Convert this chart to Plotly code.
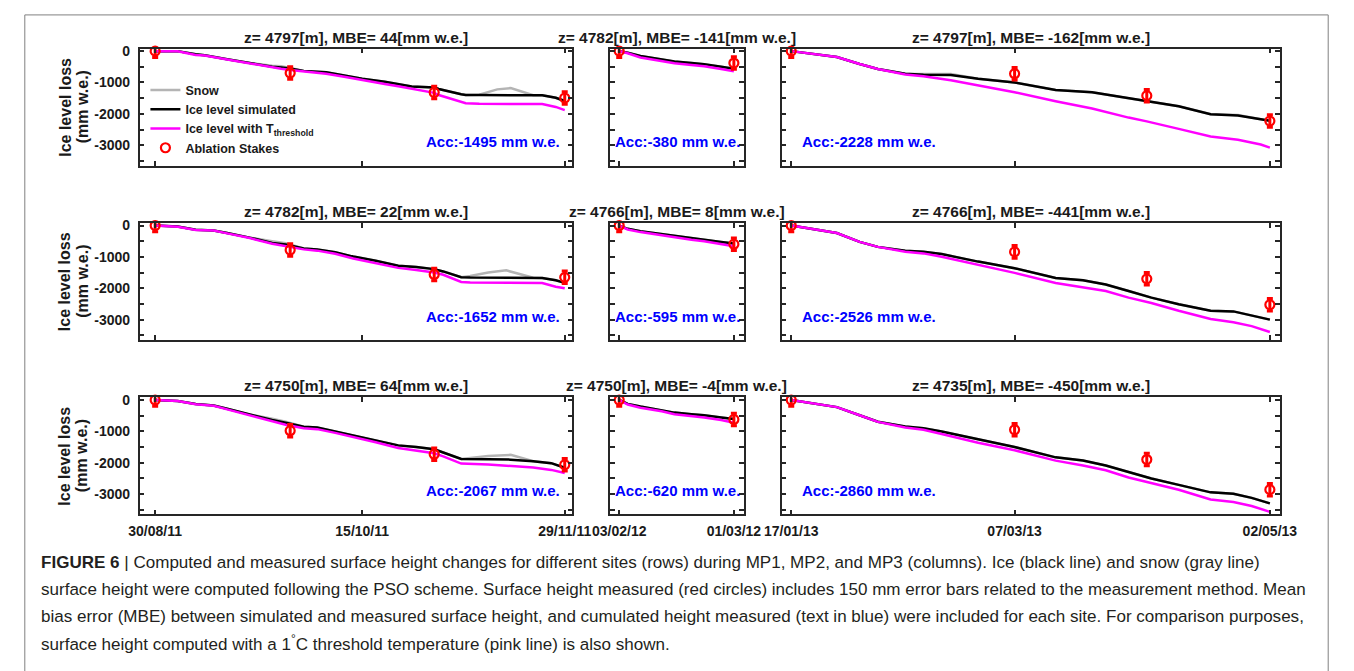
import pandas as pd
import plotly.graph_objects as go

W, H = 1354, 671

# ---------------- data ----------------
col_start = ["2011-08-30", "2012-02-03", "2013-01-17"]
col_tickvals = [["2011-08-30", "2011-10-15", "2011-11-29"],
                ["2012-02-03", "2012-03-01"],
                ["2013-01-17", "2013-03-07", "2013-05-02"]]
col_ticktext = [["30/08/11", "15/10/11", "29/11/11"],
                ["03/02/12", "01/03/12"],
                ["17/01/13", "07/03/13", "02/05/13"]]
col_range = [["2011-08-26 13:00", "2011-11-30 17:00"],
             ["2012-01-31 22:00", "2012-03-03 07:00"],
             ["2013-01-14 21:00", "2013-05-04 03:00"]]

y_tickvals = [-3000, -2000, -1000, 0]
y_ticktext = ["-3000", "-2000", "-1000", "0"]
y_minor_step = 500

titles = [["z= 4797[m], MBE= 44[mm w.e.]", "z= 4782[m], MBE= -141[mm w.e.]", "z= 4797[m], MBE= -162[mm w.e.]"],
          ["z= 4782[m], MBE= 22[mm w.e.]", "z= 4766[m], MBE= 8[mm w.e.]", "z= 4766[m], MBE= -441[mm w.e.]"],
          ["z= 4750[m], MBE= 64[mm w.e.]", "z= 4750[m], MBE= -4[mm w.e.]", "z= 4735[m], MBE= -450[mm w.e.]"]]
acc_values = [[-1495, -380, -2228],
              [-1652, -595, -2526],
              [-2067, -620, -2860]]

stake_days = [[0, 30, 62, 91], [0, 27], [0, 49, 78, 105]]
stake_values = [[[0, -700, -1320, -1495], [0, -380], [0, -720, -1420, -2228]],
                [[0, -780, -1560, -1652], [0, -595], [0, -840, -1700, -2526]],
                [[0, -980, -1730, -2067], [0, -620], [0, -950, -1900, -2860]]]
stake_err = 200

# column 1 series (MP1)
days_c1_r1 = [0, 5, 9, 11, 16, 21, 26, 28, 30, 33, 38, 42, 46, 51, 54, 57, 62, 63, 68, 69, 72, 76, 79, 82, 84, 86, 89, 91]
ice_r1c1 = [0, 0, -100, -135, -260, -380, -500, -520, -550, -630, -670, -775, -880, -980, -1055, -1130, -1160, -1210, -1375, -1400, -1400, -1400, -1400, -1400, -1405, -1410, -1490, -1590]
thr_r1c1 = [0, -5, -120, -140, -270, -400, -520, -560, -600, -640, -720, -820, -930, -1050, -1120, -1190, -1330, -1400, -1620, -1660, -1680, -1680, -1685, -1685, -1690, -1690, -1780, -1880]
snow_r1c1 = [0, 0, -100, -135, -260, -380, -470, -480, -540, -630, -670, -775, -880, -980, -1055, -1130, -1160, -1210, -1375, -1400, -1390, -1220, -1180, -1300, -1405, -1410, -1490, -1590]

days_c1_r2 = [0, 5, 9, 13, 16, 21, 26, 29, 33, 36, 40, 44, 49, 54, 58, 62, 64, 68, 70, 74, 78, 82, 84, 86, 89, 91]
ice_r2c1 = [0, -30, -135, -155, -240, -385, -555, -605, -730, -765, -855, -990, -1120, -1285, -1325, -1390, -1463, -1650, -1660, -1660, -1665, -1665, -1670, -1670, -1745, -1830]
thr_r2c1 = [0, -35, -140, -160, -250, -400, -580, -650, -760, -800, -900, -1050, -1200, -1350, -1420, -1495, -1570, -1800, -1815, -1820, -1825, -1825, -1830, -1830, -1950, -2000]
snow_r2c1 = [0, -30, -135, -155, -240, -385, -500, -560, -730, -765, -855, -990, -1120, -1285, -1325, -1390, -1463, -1650, -1610, -1500, -1430, -1580, -1665, -1670, -1745, -1830]

days_c1_r3 = [0, 5, 9, 13, 16, 21, 26, 29, 33, 36, 40, 44, 49, 54, 58, 62, 64, 68, 74, 79, 84, 88, 91]
ice_r3c1 = [0, -30, -125, -175, -280, -465, -640, -724, -850, -880, -1003, -1127, -1282, -1448, -1500, -1572, -1675, -1882, -1890, -1903, -1955, -2016, -2161]
thr_r3c1 = [0, -35, -135, -185, -300, -480, -670, -790, -900, -930, -1050, -1180, -1350, -1530, -1620, -1700, -1800, -2030, -2060, -2100, -2150, -2230, -2330]
snow_r3c1 = [0, -30, -125, -175, -280, -465, -600, -690, -850, -880, -1003, -1127, -1282, -1448, -1500, -1572, -1675, -1882, -1790, -1750, -1955, -2016, -2161]

# column 2 series (MP2)
days_c2 = [0, 2, 5, 10, 13, 17, 20, 24, 27]
ice_r1c2 = [0, -50, -155, -260, -330, -380, -415, -500, -560]
thr_r1c2 = [0, -70, -205, -330, -390, -445, -485, -570, -640]
ice_r2c2 = [0, -105, -178, -261, -334, -387, -450, -522, -575]
thr_r2c2 = [0, -125, -209, -313, -387, -450, -500, -596, -658]
ice_r3c2 = [0, -124, -207, -331, -403, -455, -486, -558, -610]
thr_r3c2 = [0, -145, -248, -362, -455, -507, -558, -641, -724]

# column 3 series (MP3)
days_c3_r1 = [0, 4, 10, 15, 19, 25, 29, 35, 41, 49, 58, 66, 74, 78, 85, 92, 98, 103, 105]
ice_r1c3 = [0, -70, -190, -410, -570, -725, -755, -760, -880, -1000, -1240, -1313, -1500, -1600, -1760, -2016, -2050, -2170, -2220]
thr_r1c3 = [0, -70, -190, -410, -570, -745, -800, -930, -1090, -1313, -1600, -1830, -2120, -2240, -2480, -2720, -2830, -2980, -3080]
snow_r1c3 = [0, -70, -190, -410, -570, -725, -725, -730, -880, -1000, -1240, -1313, -1500, -1600, -1760, -2016, -2040, -2170, -2220]

days_c3 = [0, 4, 10, 15, 19, 25, 29, 33, 41, 49, 58, 64, 69, 74, 79, 85, 92, 97, 101, 105]
ice_r2c3 = [0, -105, -240, -522, -680, -805, -836, -910, -1150, -1360, -1670, -1745, -1880, -2090, -2300, -2508, -2717, -2738, -2873, -3000]
thr_r2c3 = [0, -105, -240, -522, -680, -836, -888, -993, -1254, -1510, -1830, -1985, -2090, -2300, -2470, -2717, -2978, -3082, -3208, -3396]
ice_r3c3 = [0, -93, -228, -486, -693, -848, -900, -1003, -1262, -1500, -1830, -1934, -2089, -2296, -2503, -2709, -2947, -2989, -3123, -3299]
thr_r3c3 = [0, -93, -228, -486, -700, -879, -951, -1086, -1365, -1603, -1934, -2089, -2244, -2472, -2658, -2865, -3175, -3257, -3382, -3568]

panels = {
    (0, 0): (days_c1_r1, ice_r1c1, thr_r1c1, snow_r1c1),
    (1, 0): (days_c1_r2, ice_r2c1, thr_r2c1, snow_r2c1),
    (2, 0): (days_c1_r3, ice_r3c1, thr_r3c1, snow_r3c1),
    (0, 1): (days_c2, ice_r1c2, thr_r1c2, ice_r1c2),
    (1, 1): (days_c2, ice_r2c2, thr_r2c2, ice_r2c2),
    (2, 1): (days_c2, ice_r3c2, thr_r3c2, ice_r3c2),
    (0, 2): (days_c3_r1, ice_r1c3, thr_r1c3, snow_r1c3),
    (1, 2): (days_c3, ice_r2c3, thr_r2c3, ice_r2c3),
    (2, 2): (days_c3, ice_r3c3, thr_r3c3, ice_r3c3),
}

caption_lines = [
    "<b>FIGURE 6</b> | Computed and measured surface height changes for different sites (rows) during MP1, MP2, and MP3 (columns). Ice (black line) and snow (gray line)",
    "surface height were computed following the PSO scheme. Surface height measured (red circles) includes 150 mm error bars related to the measurement method. Mean",
    "bias error (MBE) between simulated and measured surface height, and cumulated height measured (text in blue) were included for each site. For comparison purposes,",
    "surface height computed with a 1<sup>°</sup>C threshold temperature (pink line) is also shown.",
]

# ---------------- layout geometry (pixels) ----------------
col_px = [(125, 570), (609, 746), (785, 1297)]
row_px = [(43, 161), (219, 337), (395, 513)]
YRANGE = [-3650, 80]

FONT = "Liberation Sans, Arial, Helvetica, sans-serif"
AXC = "#262626"
TXT = "#1a1a1a"


def fx(px):
    return px / W


def fy(py):
    return 1 - py / H


def to_dates(start, days):
    s = pd.Timestamp(start)
    return [s + pd.Timedelta(days=float(d)) for d in days]


fig = go.Figure()
layout = dict(width=W, height=H, autosize=False, margin=dict(l=0, r=0, t=0, b=0),
              paper_bgcolor="white", plot_bgcolor="white",
              font=dict(family=FONT, color="black"), showlegend=True)

annotations = []
for r in range(3):
    for c in range(3):
        k = r * 3 + c + 1
        xa = "x" if k == 1 else f"x{k}"
        ya = "y" if k == 1 else f"y{k}"
        days, ice, thr, snow = panels[(r, c)]
        xs = to_dates(col_start[c], days)
        first = (r == 0 and c == 0)
        fig.add_trace(go.Scatter(x=xs, y=snow, mode="lines", xaxis=xa, yaxis=ya,
                                 line=dict(color="#b4b4b4", width=2.5), name="Snow",
                                 showlegend=first))
        fig.add_trace(go.Scatter(x=xs, y=ice, mode="lines", xaxis=xa, yaxis=ya,
                                 line=dict(color="black", width=2.5), name="Ice level simulated",
                                 showlegend=first))
        fig.add_trace(go.Scatter(x=xs, y=thr, mode="lines", xaxis=xa, yaxis=ya,
                                 line=dict(color="#ff00ff", width=2.5),
                                 name="Ice level with T<sub>threshold</sub>", showlegend=first))
        fig.add_trace(go.Scatter(x=to_dates(col_start[c], stake_days[c]), y=stake_values[r][c],
                                 mode="markers", xaxis=xa, yaxis=ya, name="Ablation Stakes",
                                 showlegend=first, cliponaxis=False,
                                 marker=dict(symbol="circle-open", size=9, color="#ff0000",
                                             line=dict(width=2.2, color="#ff0000")),
                                 error_y=dict(type="constant", value=stake_err, color="#ff0000",
                                              thickness=3, width=3)))

        x0, x1 = col_px[c]
        y0, y1 = row_px[r]
        xkey = "xaxis" if k == 1 else f"xaxis{k}"
        ykey = "yaxis" if k == 1 else f"yaxis{k}"
        layout[xkey] = dict(domain=[fx(x0), fx(x1)], anchor=ya, type="date",
                            range=col_range[c], tickvals=col_tickvals[c], ticktext=col_ticktext[c],
                            showticklabels=(r == 2), ticks="inside", ticklen=5, tickwidth=1.5,
                            tickcolor=AXC, showline=True, linecolor=AXC, linewidth=1.5,
                            mirror="ticks", showgrid=False, zeroline=False,
                            ticklabelstandoff=3,
                            tickfont=dict(size=14, color=TXT, weight="bold", family=FONT))
        layout[ykey] = dict(domain=[fy(y1), fy(y0)], anchor=xa, range=YRANGE,
                            tickvals=y_tickvals, ticktext=y_ticktext,
                            minor=dict(tick0=0, dtick=y_minor_step, ticks="inside", ticklen=5,
                                       tickwidth=1.5, tickcolor=AXC, showgrid=False),
                            showticklabels=(c == 0), ticks="inside", ticklen=5, tickwidth=1.5,
                            tickcolor=AXC, showline=True, linecolor=AXC, linewidth=1.5,
                            mirror="ticks", showgrid=False, zeroline=False,
                            ticklabelstandoff=5,
                            tickfont=dict(size=14, color=TXT, weight="bold", family=FONT))

        # panel title
        annotations.append(dict(xref="paper", yref="paper", x=fx((x0 + x1) / 2), y=fy(y0 - 1),
                                xanchor="center", yanchor="bottom", showarrow=False,
                                text=titles[r][c],
                                font=dict(size=15.5, color=TXT, weight="bold", family=FONT)))
        # Acc text
        acc_txt = f"Acc:{acc_values[r][c]} mm w.e."
        if c == 0:
            ax_, anc = x1 - 11, "right"
        elif c == 1:
            ax_, anc = x0 + 3, "left"
        else:
            ax_, anc = x0 + 19, "left"
        annotations.append(dict(xref="paper", yref="paper", x=fx(ax_), y=fy(y0 + 94),
                                xanchor=anc, yanchor="middle", showarrow=False, text=acc_txt,
                                font=dict(size=15, color="#0000ff", weight="bold", family=FONT)))

    # y-axis title
    yc = (row_px[r][0] + row_px[r][1]) / 2
    annotations.append(dict(xref="paper", yref="paper", x=fx(48), y=fy(yc), xanchor="center",
                            yanchor="middle", showarrow=False, textangle=-90,
                            text="Ice level loss",
                            font=dict(size=16, color=TXT, weight="bold", family=FONT)))
    annotations.append(dict(xref="paper", yref="paper", x=fx(66), y=fy(yc), xanchor="center",
                            yanchor="middle", showarrow=False, textangle=-90,
                            text="(mm w.e.)",
                            font=dict(size=16, color=TXT, weight="bold", family=FONT)))

# caption
cap_y = [562, 589, 616, 643]
for line, py in zip(caption_lines, cap_y):
    annotations.append(dict(xref="paper", yref="paper", x=fx(22), y=fy(py), xanchor="left",
                            yanchor="middle", showarrow=False, text=line,
                            font=dict(size=17.05, color="#231f20", family=FONT)))

layout["annotations"] = annotations
layout["shapes"] = [
    dict(type="line", xref="paper", yref="paper", x0=fx(7), x1=fx(7), y0=fy(9), y1=fy(700),
         line=dict(color="#808080", width=1)),
    dict(type="line", xref="paper", yref="paper", x0=fx(1347), x1=fx(1347), y0=fy(9), y1=fy(700),
         line=dict(color="#808080", width=1)),
    dict(type="line", xref="paper", yref="paper", x0=fx(7), x1=fx(1347), y0=fy(9), y1=fy(9),
         line=dict(color="#808080", width=1)),
]
layout["legend"] = dict(x=fx(131), y=fy(70), xanchor="left", yanchor="top",
                        bgcolor="rgba(0,0,0,0)", borderwidth=0, tracegroupgap=0,
                        itemwidth=30,
                        font=dict(size=12.5, color=TXT, weight="bold", family=FONT))

fig.update_layout(**layout)
fig.write_html("out.html")
